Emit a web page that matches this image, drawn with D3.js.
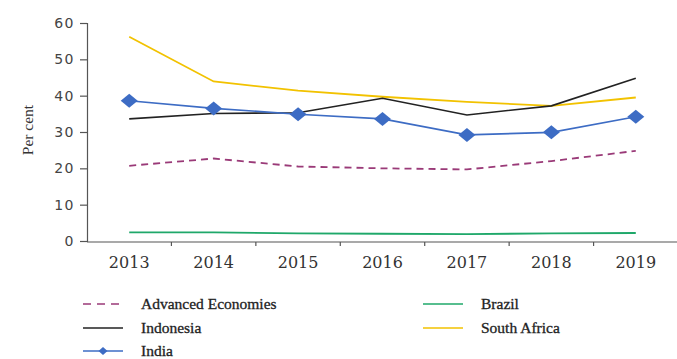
<!DOCTYPE html>
<html>
<head>
<meta charset="utf-8">
<script src="https://cdn.jsdelivr.net/npm/d3@7/dist/d3.min.js"></script>
<style>
  html, body { margin: 0; padding: 0; background: #fff; }
  svg { display: block; }
  text { font-family: "Liberation Serif", "DejaVu Serif", serif; fill: #333; }
</style>
</head>
<body>
<svg id="chart" width="677" height="359"></svg>
<script>
// Share of population (per cent), 2013-2019
const years = ["2013", "2014", "2015", "2016", "2017", "2018", "2019"];
const yTicks = [0, 10, 20, 30, 40, 50, 60];

const advancedEconomies = [20.7, 22.7, 20.5, 20.0, 19.7, 22.0, 24.8];
const indonesia = [33.6, 35.1, 35.3, 39.3, 34.7, 37.2, 44.8];
const india = [38.6, 36.5, 34.9, 33.6, 29.2, 29.9, 34.2];
const brazil = [2.4, 2.4, 2.1, 2.0, 1.9, 2.1, 2.2];
const southAfrica = [56.2, 43.9, 41.4, 39.7, 38.3, 37.2, 39.5];

const series = [
  { name: "South Africa", values: southAfrica, color: "#f2c200", width: 1.8 },
  { name: "Brazil", values: brazil, color: "#1fa86a", width: 1.8 },
  { name: "Advanced Economies", values: advancedEconomies, color: "#9a3a78", width: 1.8, dash: "7,5" },
  { name: "Indonesia", values: indonesia, color: "#222222", width: 1.6 },
  { name: "India", values: india, color: "#3d6cc4", width: 1.6, marker: true }
];

const svg = d3.select("#chart");
const x = d3.scaleBand().domain(years).range([87, 678]);
const y = d3.scaleLinear().domain([0, 60]).range([241, 23]);

// Y axis
const yAxis = svg.append("g").attr("transform", "translate(87,0)")
  .call(d3.axisLeft(y).tickValues(yTicks).tickSize(7).tickPadding(5));
yAxis.select(".domain").attr("stroke", "#555").attr("stroke-width", 1.2);
yAxis.selectAll(".tick line").attr("stroke", "#555").attr("stroke-width", 1.2);
yAxis.selectAll(".tick text")
  .style("font-family", "'DejaVu Sans', sans-serif")
  .style("font-size", "14px").style("letter-spacing", "1.5px").style("fill", "#444");

// X axis: ticks at category boundaries, labels centred in each band
const xAxis = svg.append("g").attr("transform", "translate(0,242)");
xAxis.append("line").attr("x1", 87).attr("x2", 678).attr("stroke", "#555").attr("stroke-width", 1.2);
xAxis.selectAll("line.tk").data(years.slice(1)).join("line").attr("class", "tk")
  .attr("x1", d => x(d)).attr("x2", d => x(d)).attr("y1", 0).attr("y2", 4)
  .attr("stroke", "#555").attr("stroke-width", 1.2);
xAxis.selectAll("text").data(years).join("text")
  .attr("x", d => x(d) + x.bandwidth() / 2).attr("y", 26)
  .attr("text-anchor", "middle")
  .style("font-family", "'DejaVu Serif', serif")
  .style("font-size", "16px").style("fill", "#333")
  .text(d => d);

// Y axis title
svg.append("text")
  .attr("transform", "translate(33,130) rotate(-90)")
  .attr("text-anchor", "middle").style("font-size", "15.5px").style("fill", "#333")
  .text("Per cent");

const line = d3.line()
  .x((d, i) => x(years[i]) + x.bandwidth() / 2)
  .y(d => y(d));

// Wide diamond marker centred on the origin
const diamondPath = (hw, hh) => `M${-hw},0L0,${-hh}L${hw},0L0,${hh}Z`;

series.forEach(s => {
  svg.append("path").datum(s.values)
    .attr("d", line).attr("fill", "none")
    .attr("stroke", s.color).attr("stroke-width", s.width)
    .attr("stroke-dasharray", s.dash || null);
  if (s.marker) {
    svg.selectAll(null).data(s.values).join("path")
      .attr("d", diamondPath(8.5, 7))
      .attr("transform", (d, i) => `translate(${x(years[i]) + x.bandwidth() / 2},${y(d)})`)
      .attr("fill", s.color);
  }
});

// Legend
const legendItems = [
  { name: "Advanced Economies", col: 0, row: 0 },
  { name: "Brazil", col: 1, row: 0 },
  { name: "Indonesia", col: 0, row: 1 },
  { name: "South Africa", col: 1, row: 1 },
  { name: "India", col: 0, row: 2 }
];
const colX = [83, 423];
const rowY = [304, 328, 351];
legendItems.forEach(it => {
  const s = series.find(d => d.name === it.name);
  const g = svg.append("g").attr("transform", `translate(${colX[it.col]},${rowY[it.row]})`);
  g.append("line").attr("x1", 0).attr("x2", 40).attr("y1", 0).attr("y2", 0)
    .attr("stroke", s.color).attr("stroke-width", 1.5)
    .attr("stroke-dasharray", s.dash ? "8,6" : null);
  if (s.marker) {
    g.append("path").attr("d", diamondPath(4.5, 4))
      .attr("transform", "translate(20,0)").attr("fill", s.color);
  }
  g.append("text").attr("x", 58).attr("y", 5)
    .style("font-size", "15.5px").style("fill", "#222")
    .style("stroke", "#222").style("stroke-width", "0.3px")
    .text(it.name);
});
</script>
</body>
</html>
